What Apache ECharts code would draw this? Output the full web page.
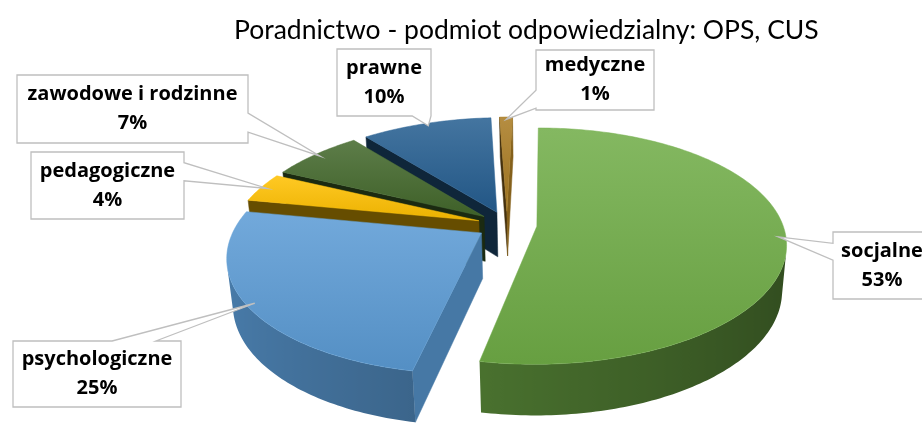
<!DOCTYPE html>
<html>
<head>
<meta charset="utf-8">
<script src="https://cdn.jsdelivr.net/npm/echarts@6/dist/echarts.min.js"></script>
<style>
html, body { margin: 0; padding: 0; background: #fff; }
#main { width: 922px; height: 426px; }
</style>
</head>
<body>
<div id="main"></div>
<script>
// dane
var categories = ['socjalne', 'psychologiczne', 'pedagogiczne', 'zawodowe i rodzinne', 'prawne', 'medyczne'];
var values = [53, 25, 4, 7, 10, 1];
var colors = ['#70AD47', '#5B9BD5', '#FFC000', '#43682B', '#255E91', '#A97B22'];
var titleText = 'Poradnictwo - podmiot odpowiedzialny: OPS, CUS';

// układ etykiet (ramki) i dzióbków: [bok, od, do]
var labelBoxes = [
    [833, 232, 931, 299],
    [13, 341, 181, 407],
    [31, 152, 184, 219],
    [17, 75, 248, 143],
    [337, 49, 431, 116],
    [536, 50, 654, 110]
];
var labelWedges = [
    ['left', 0.17, 0.42],
    ['top', 0.59, 0.85],
    ['right', 0.16, 0.43],
    ['right', 0.56, 0.84],
    ['bottom', 0.8, 1.0],
    ['left', 0.67, 0.97]
];

// geometria wykresu 3D
var pie = { cx: 507, cy: 225, camX: 40, r: 246, depth: 52, explode: 30, sinA: 0.465, cosA: 0.885, D: 1300 };

function project(X, Z, Y) {
    var s = pie.D / (pie.D + Z * pie.cosA - Y * pie.sinA);
    return [pie.cx + pie.camX + (X - pie.camX) * s, pie.cy - (Z * pie.sinA + Y * pie.cosA) * s];
}

function rgb(hex) {
    return [parseInt(hex.substr(1, 2), 16), parseInt(hex.substr(3, 2), 16), parseInt(hex.substr(5, 2), 16)];
}
function shade(hex, k) {
    var c = rgb(hex);
    return 'rgb(' + Math.round(c[0] * k) + ',' + Math.round(c[1] * k) + ',' + Math.round(c[2] * k) + ')';
}
function tint(hex, k) {
    var c = rgb(hex);
    return 'rgb(' + Math.round(c[0] + (255 - c[0]) * k) + ',' + Math.round(c[1] + (255 - c[1]) * k) + ',' + Math.round(c[2] + (255 - c[2]) * k) + ')';
}

var total = values.reduce(function (a, b) { return a + b; }, 0);
var angles = [];
var acc = 0;
for (var i = 0; i < values.length; i++) {
    var a0 = acc / total * Math.PI * 2;
    acc += values[i];
    angles.push([a0, acc / total * Math.PI * 2]);
}
function midOf(i) { return (angles[i][0] + angles[i][1]) / 2; }

// kolejność rysowania: od najdalszych
var order = values.map(function (v, i) { return i; }).sort(function (p, q) {
    return Math.cos(midOf(q)) - Math.cos(midOf(p));
});
var rank = [];
order.forEach(function (idx, k) { rank[idx] = k; });

function calloutPoints(box, wedge, p) {
    var x0 = box[0], y0 = box[1], x1 = box[2], y1 = box[3];
    var side = wedge[0];
    if (side === 'left' || side === 'right') {
        var ya = y0 + (y1 - y0) * wedge[1], yb = y0 + (y1 - y0) * wedge[2];
        if (side === 'right') return [[x0, y0], [x1, y0], [x1, ya], p, [x1, yb], [x1, y1], [x0, y1]];
        return [[x0, y0], [x1, y0], [x1, y1], [x0, y1], [x0, yb], p, [x0, ya]];
    }
    var xa = x0 + (x1 - x0) * wedge[1], xb = x0 + (x1 - x0) * wedge[2];
    if (side === 'top') return [[x0, y0], [xa, y0], p, [xb, y0], [x1, y0], [x1, y1], [x0, y1]];
    return [[x0, y0], [x1, y0], [x1, y1], [xb, y1], p, [xa, y1], [x0, y1]];
}

function renderItem(params, api) {
    var i = params.dataIndex;
    var t0 = angles[i][0], t1 = angles[i][1], mid = midOf(i);
    var ox = pie.explode * Math.sin(mid), oz = pie.explode * Math.cos(mid);
    var color = colors[i];
    var z = rank[i] * 10;
    var camZ = -pie.D * pie.cosA;
    var children = [];

    function rim(t, y, rr) {
        rr = rr || pie.r;
        return project(ox + rr * Math.sin(t), oz + rr * Math.cos(t), y);
    }
    var apexTop = project(ox, oz, 0);
    var apexBot = project(ox, oz, -pie.depth);

    // ściany promieniowe
    [[t0, t0 - Math.PI / 2], [t1, t1 + Math.PI / 2]].forEach(function (f) {
        var nx = Math.sin(f[1]), nz = Math.cos(f[1]);
        if ((pie.camX - ox) * nx + (camZ - oz) * nz <= 0) return;
        var k = 0.4 + 0.38 * Math.max(0, nx);
        children.push({
            type: 'polygon', z2: z + 1,
            shape: { points: [apexTop, rim(f[0], 0), rim(f[0], -pie.depth), apexBot] },
            style: { fill: shade(color, k), stroke: shade(color, k), lineWidth: 0.5 }
        });
    });

    // ściana zewnętrzna
    var steps = Math.max(2, Math.ceil((t1 - t0) / (Math.PI / 180)));
    var vis = [];
    for (var s = 0; s <= steps; s++) {
        var t = t0 + (t1 - t0) * s / steps;
        var d = (pie.camX - ox - pie.r * Math.sin(t)) * Math.sin(t) + (camZ - oz - pie.r * Math.cos(t)) * Math.cos(t);
        if (d > 0) vis.push(t);
    }
    if (vis.length > 1) {
        var topPts = vis.map(function (t) { return rim(t, 0); });
        var botPts = vis.map(function (t) { return rim(t, -pie.depth); }).reverse();
        var xs = topPts.map(function (p) { return p[0]; });
        var minX = Math.min.apply(null, xs), maxX = Math.max.apply(null, xs);
        var stops = vis.map(function (t, k) {
            return { offset: (xs[k] - minX) / (maxX - minX || 1), color: shade(color, 0.62 - 0.18 * Math.sin(t)) };
        }).sort(function (a, b) { return a.offset - b.offset; });
        children.push({
            type: 'polygon', z2: z + 2,
            shape: { points: topPts.concat(botPts) },
            style: {
                fill: { type: 'linear', x: minX, y: 0, x2: maxX, y2: 0, global: true, colorStops: stops }
            }
        });
    }

    // górna powierzchnia
    var face = [apexTop];
    for (var s2 = 0; s2 <= steps; s2++) face.push(rim(t0 + (t1 - t0) * s2 / steps, 0));
    var ys = face.map(function (p) { return p[1]; });
    var minY = Math.min.apply(null, ys), maxY = Math.max.apply(null, ys);
    children.push({
        type: 'polygon', z2: z + 5,
        shape: { points: face },
        style: {
            fill: {
                type: 'linear', x: 0, y: minY, x2: 0, y2: maxY, global: true,
                colorStops: [{ offset: 0, color: tint(color, 0.14) }, { offset: 1, color: shade(color, 0.92) }]
            },
            stroke: tint(color, 0.05), lineWidth: 0.5
        }
    });

    // etykieta z dzióbkiem
    var box = labelBoxes[i];
    var anchor = rim(mid, 0, pie.r * 0.97);
    children.push({
        type: 'polygon', z2: 200,
        shape: { points: calloutPoints(box, labelWedges[i], anchor) },
        style: { fill: '#fff', stroke: '#bfbfbf', lineWidth: 1.3 }
    });
    var bx = (box[0] + box[2]) / 2, by = (box[1] + box[3]) / 2;
    var pct = Math.round(api.value(0) / total * 100) + '%';
    [[categories[i], by - 14.5], [pct, by + 14.5]].forEach(function (ln) {
        children.push({
            type: 'text', z2: 210,
            style: {
                text: ln[0], x: bx, y: ln[1], align: 'center', verticalAlign: 'middle',
                font: 'bold 20px "Open Sans"', fill: '#000'
            }
        });
    });

    return { type: 'group', children: children };
}

var myChart = echarts.init(document.getElementById('main'));

var option = {
    animation: false,
    title: {
        text: titleText,
        left: 229,
        top: 12,
        textStyle: { fontFamily: 'Lato', fontWeight: 'normal', fontSize: 26.5, color: '#000' }
    },
    series: [{
        type: 'custom',
        coordinateSystem: 'none',
        renderItem: renderItem,
        data: values.map(function (v, i) { return { name: categories[i], value: v }; })
    }]
};

myChart.setOption(option);
</script>
</body>
</html>
